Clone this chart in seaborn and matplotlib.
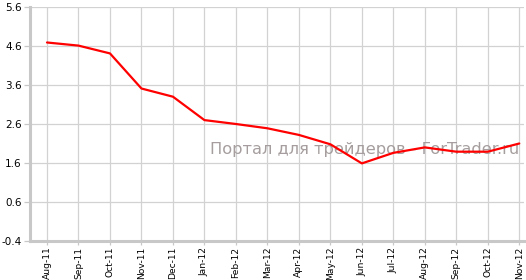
import matplotlib
matplotlib.use("Agg")
import matplotlib.pyplot as plt
import seaborn as sns
import pandas as pd

months = ["Aug-11", "Sep-11", "Oct-11", "Nov-11", "Dec-11", "Jan-12", "Feb-12",
          "Mar-12", "Apr-12", "May-12", "Jun-12", "Jul-12", "Aug-12", "Sep-12",
          "Oct-12", "Nov-12"]
values = [4.69, 4.61, 4.41, 3.51, 3.30, 2.70, 2.60, 2.49, 2.32, 2.08, 1.59,
          1.86, 2.00, 1.89, 1.89, 2.10]
y_ticks = [-0.4, 0.6, 1.6, 2.6, 3.6, 4.6, 5.6]
watermark = "Портал для трейдеров - ForTrader.ru"

sns.set_style("white")
plt.rcParams["font.family"] = ["DejaVu Sans"]

df = pd.DataFrame({"month": months, "value": values})

fig = plt.figure(figsize=(5.26, 2.80), dpi=100)
ax = fig.add_axes([30 / 526, 1 - 241 / 280, (524 - 30) / 526, (241 - 7) / 280])

sns.lineplot(data=df, x="month", y="value", ax=ax, color="#ff0000",
             linewidth=1.6, sort=False)

ax.set_xlim(-0.54, 15.15)
ax.set_ylim(-0.4, 5.6)
ax.set_yticks(y_ticks)
ax.set_yticklabels([f"{v:.1f}" for v in y_ticks])
ax.set_xticks(range(len(months)))
ax.set_xticklabels(months, rotation=90)
ax.set_xlabel("")
ax.set_ylabel("")

ax.grid(True, color="#d2d2d2", linewidth=0.9)
ax.set_axisbelow(True)
for s in ["top", "right"]:
    ax.spines[s].set_visible(False)
for s in ["left", "bottom"]:
    ax.spines[s].set_color("#c8c8c8")
    ax.spines[s].set_linewidth(2.2)
ax.tick_params(axis="both", which="both", length=4, width=0.9, color="#c8c8c8",
               labelcolor="#000000")
ax.tick_params(axis="y", direction="out", left=True, labelsize=7.5, pad=2)
ax.tick_params(axis="x", direction="out", bottom=True, labelsize=6.6, pad=1, length=3)

ax.text(0.99, 0.392, watermark, transform=ax.transAxes, ha="right", va="center",
        fontsize=11.7, color="#a69e9e", zorder=1)

fig.savefig("out.png", dpi=100)
